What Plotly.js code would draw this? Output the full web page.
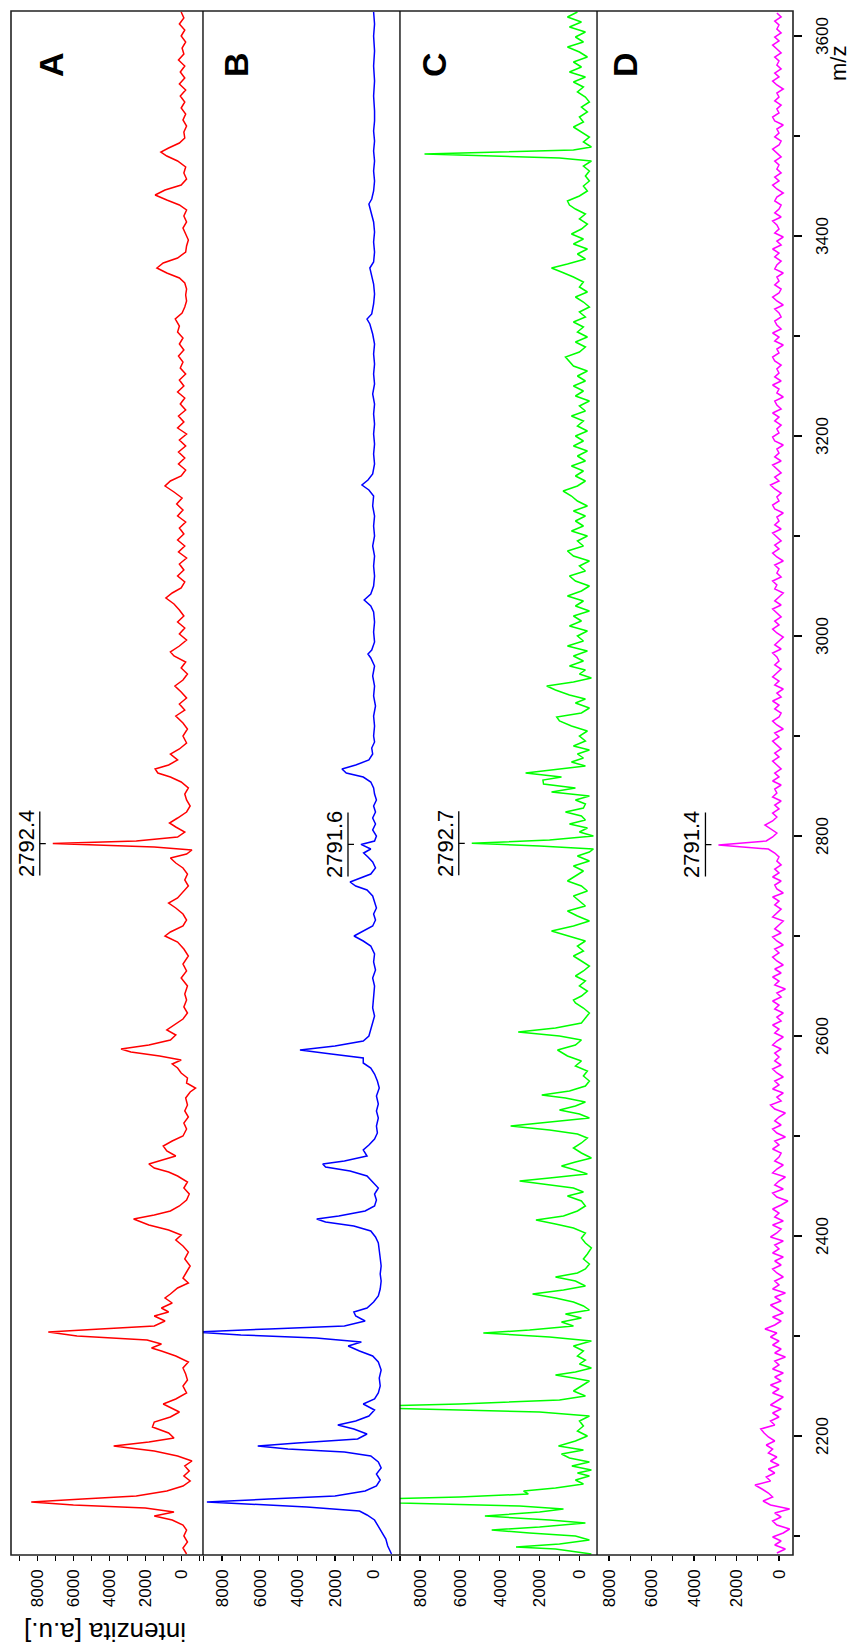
<!DOCTYPE html>
<html><head><meta charset="utf-8">
<script src="https://cdn.plot.ly/plotly-3.0.1.min.js"></script>
<style>
html,body{margin:0;padding:0;width:853px;height:1652px;overflow:hidden;background:#fff}
#wrap{position:absolute;left:0;top:0;width:1652px;height:853px;transform-origin:0 0;transform:translateY(1652px) rotate(-90deg)}
#chart{width:1652px;height:853px}
</style></head><body><div id="wrap"><div id="chart"></div></div>
<script>
// ---------- DATA ----------
const panelNames = ["A", "B", "C", "D"];
const peakMz = [2792.4, 2791.6, 2792.7, 2791.4];
const peakText = ["2792.4", "2791.6", "2792.7", "2791.4"];
const intensityTicks = [0, 2000, 4000, 6000, 8000];
const mzTicks = [2200, 2400, 2600, 2800, 3000, 3200, 3400, 3600];

// spectrum A: [m/z, intensity]
const spectrumA = [
[2082,-300],[2088,-100],[2094,-350],[2100,-150],[2106,-300],[2111,-100],[2116,500],[2120,1500],[2124,400],[2128,2000],[2131,6000],[2134,8350],[2137,5500],[2140,2500],[2145,800],[2150,-100],[2155,-500],[2160,-150],[2165,-450],[2170,-200],[2175,-600],[2180,200],[2185,1500],[2190,3760],[2194,1800],[2198,400],[2203,700],[2209,1600],[2214,1500],[2219,600],[2224,100],[2228,600],[2232,1000],[2237,300],[2243,-300],[2250,-100],[2256,-350],[2262,-250],[2268,-100],[2274,-400],[2280,300],[2285,1100],[2288,1650],[2292,1100],[2296,1900],[2300,5800],[2304,7400],[2307,4500],[2310,1500],[2315,900],[2320,1500],[2324,700],[2328,1100],[2333,500],[2338,900],[2342,600],[2348,200],[2353,-400],[2358,-100],[2364,-300],[2370,-500],[2377,-200],[2384,-400],[2390,-100],[2396,300],[2401,0],[2406,700],[2411,1800],[2417,2650],[2421,1500],[2425,600],[2430,100],[2436,-300],[2442,-450],[2448,-150],[2454,-350],[2460,200],[2464,700],[2468,1500],[2472,1800],[2476,1000],[2480,300],[2485,800],[2490,1000],[2495,500],[2500,-100],[2507,-300],[2513,-150],[2519,-400],[2525,-200],[2531,-350],[2538,-250],[2544,-500],[2548,-800],[2553,-300],[2558,-350],[2563,0],[2568,200],[2572,500],[2576,0],[2580,1200],[2584,2800],[2587,3350],[2591,1800],[2596,600],[2601,300],[2606,800],[2611,400],[2617,-100],[2623,-350],[2629,-150],[2636,-300],
[2642,-200],[2650,-350],[2658,0],[2665,-300],[2672,-100],[2680,-400],[2687,-150],[2694,200],[2700,900],[2704,600],[2710,-100],[2716,-300],[2722,-100],[2728,300],[2733,700],[2738,200],[2744,-100],[2750,-400],[2756,-200],[2762,-350],[2768,-100],[2773,300],[2778,600],[2782,-300],[2786,-600],[2789,1500],[2792.4,7150],[2795,2500],[2799,200],[2804,-200],[2809,300],[2813,650],[2818,200],[2824,-300],[2830,-500],[2836,-300],[2842,-200],[2848,-400],[2854,0],[2859,600],[2863,1300],[2867,1450],[2871,700],[2876,200],[2882,600],[2887,100],[2893,-300],[2900,-100],[2907,-350],[2913,-100],[2920,300],[2926,-200],[2932,100],[2938,-300],[2944,0],[2950,350],[2956,-100],[2962,-350],[2968,0],[2974,-250],[2980,400],[2984,600],[2990,100],[2996,-300],[3002,100],[3008,-200],[3014,200],[3020,-150],[3026,100],[3032,400],[3038,850],[3043,500],[3048,0],[3054,-200],[3060,200],[3066,-150],[3072,100],[3078,-300],[3084,150],[3090,-200],[3096,200],[3102,-150],[3108,100],[3114,-250],[3120,200],[3126,-100],[3132,250],[3138,-50],[3144,400],[3150,900],[3155,600],[3160,0],[3166,-250],[3172,150],[3178,-200],[3184,150],[3190,-250],[3196,100],[3202,-300],[3208,200],[3214,-150],[3220,150],[3226,-250],[3232,50],[3238,-200],[3244,200],[3250,-150],[3256,100],[3262,-250],[3268,50],[3274,-100],[3280,150],[3286,-150],[3292,100],[3298,-100],[3304,200],[3310,100],[3317,330],[3323,-50],[3329,-200],[3335,-300],[3341,-250],[3347,-300],[3353,-200],[3358,100],[3363,800],[3368,1350],[3373,1000],[3378,200],[3384,-250],[3390,-300],[3396,-400],[3402,-250],[3408,-100],[3414,-300],[3420,-150],[3426,-300],[3431,100],[3436,800],[3441,1450],[3446,900],[3451,0],[3457,-300],[3463,-150],[3469,-250],[3475,200],[3480,800],[3484,1130],[3488,700],[3493,100],[3498,-200],[3504,-150],[3510,-300],[3516,-100],[3522,-250],[3528,0],[3534,-200],[3540,50],[3546,-250],[3552,100],[3558,-200],[3564,50],[3570,-200],[3576,150],[3582,-150],[3588,-50],[3594,-250],[3600,0],[3606,-200],[3612,100],[3618,-150],[3624,0]
];

// spectrum B: [m/z, intensity]
const spectrumB = [
[2082,-1000],[2090,-800],[2097,-700],[2103,-500],[2110,-300],[2116,-100],[2121,300],[2125,700],[2129,3500],[2132,7000],[2134,8800],[2137,5500],[2140,2000],[2145,400],[2150,-200],[2156,-400],[2162,-200],[2168,-450],[2174,-300],[2180,100],[2184,1500],[2187,4500],[2190,6100],[2193,4000],[2197,800],[2202,300],[2207,1000],[2211,1850],[2215,900],[2220,200],[2226,-100],[2232,500],[2237,-100],[2243,-300],[2250,-400],[2258,-350],[2266,-450],[2274,-300],[2280,0],[2285,700],[2290,1300],[2294,600],[2298,3000],[2301,7000],[2304,9500],[2307,5500],[2310,1500],[2315,400],[2320,900],[2324,1000],[2328,300],[2334,-50],[2340,-300],[2347,-400],[2355,-450],[2362,-400],[2370,-450],[2378,-400],[2386,-350],[2393,-300],[2399,-150],[2405,100],[2410,1000],[2414,2500],[2417,2970],[2420,1800],[2425,400],[2430,-100],[2436,-200],[2442,-100],[2448,-300],[2454,0],[2460,300],[2465,1200],[2469,2500],[2472,2650],[2475,1500],[2480,300],[2486,500],[2491,200],[2497,-100],[2503,-250],[2510,-200],[2518,-300],[2525,-200],[2532,-300],[2540,-200],[2548,-350],[2555,-250],[2562,-100],[2568,100],[2573,500],[2578,500],[2582,2200],[2586,3860],[2590,2000],[2595,500],[2600,200],[2606,100],[2612,0],[2620,-100],[2628,0],[2636,-50],
[2642,-50],[2650,-100],[2658,0],[2666,-150],[2674,-50],[2682,-100],[2690,100],[2695,500],[2700,990],[2705,500],[2710,0],[2716,-150],[2722,-50],[2728,-200],[2734,-100],[2740,0],[2746,300],[2750,900],[2754,1200],[2758,700],[2762,100],[2768,-150],[2774,0],[2779,250],[2783,480],[2787,100],[2791.6,620],[2795,-100],[2800,-200],[2806,0],[2812,-150],[2818,0],[2824,-150],[2830,-50],[2836,-200],[2842,-100],[2848,-50],[2854,100],[2859,500],[2863,1400],[2867,1630],[2871,900],[2876,200],[2882,0],[2888,50],[2894,-100],[2900,-50],[2910,-100],[2920,-50],[2930,-150],[2940,-50],[2950,-100],[2960,0],[2970,-100],[2978,100],[2982,250],[2986,50],[2994,-100],[3004,-50],[3014,-100],[3024,-50],[3030,100],[3036,450],[3042,100],[3050,-50],[3060,-100],[3070,-50],[3080,-100],[3090,0],[3100,-100],[3110,-50],[3120,-100],[3130,0],[3140,-50],[3146,200],[3151,570],[3156,250],[3162,0],[3172,-100],[3182,-50],[3192,-100],[3202,-50],[3212,-100],[3222,-50],[3232,-100],[3242,0],[3252,-100],[3262,-50],[3272,-100],[3282,-50],[3292,-100],[3302,0],[3312,150],[3317,300],[3322,50],[3332,-50],[3342,-100],[3352,-50],[3362,50],[3368,150],[3374,-50],[3384,-100],[3394,-50],[3404,-100],[3414,-50],[3422,50],[3428,150],[3432,200],[3437,50],[3445,-50],[3455,-100],[3465,-50],[3475,-100],[3485,-50],[3495,-100],[3505,-50],[3515,-100],[3525,-100],[3540,-50],[3555,-100],[3570,-50],[3585,-100],[3600,-50],[3612,-100],[3624,-50]
];

// spectrum C: [m/z, intensity]
const spectrumC = [
[2082,-600],[2087,1200],[2089,3180],[2092,1000],[2096,-500],[2100,200],[2103,2500],[2106,4400],[2109,2000],[2113,-300],[2116,1500],[2120,4740],[2124,2000],[2127,800],[2130,3000],[2133,9000],[2136,12000],[2139,6000],[2142,2564],[2145,2800],[2148,1200],[2152,-200],[2156,200],[2160,-500],[2163,100],[2166,-600],[2170,380],[2174,-500],[2178,500],[2182,900],[2186,-200],[2190,1050],[2195,200],[2200,-400],[2205,100],[2210,-200],[2215,0],[2220,-500],[2224,2000],[2227,9000],[2229,12000],[2232,6000],[2236,1000],[2240,-300],[2245,300],[2250,-100],[2255,-500],[2258,300],[2261,1200],[2264,200],[2268,-600],[2272,0],[2276,-300],[2280,100],[2285,-200],[2290,300],[2295,-600],[2299,1500],[2303,4820],[2306,2500],[2310,300],[2314,900],[2318,-100],[2322,700],[2326,-500],[2330,-200],[2334,300],[2338,1200],[2342,2350],[2346,800],[2350,-300],[2355,200],[2359,1200],[2363,100],[2367,-300],[2372,-500],[2377,-200],[2382,-400],[2388,-600],[2393,-300],[2398,-100],[2403,-300],[2408,300],[2412,1200],[2416,2180],[2420,800],[2425,100],[2430,-300],[2435,-100],[2440,600],[2444,-200],[2448,300],[2452,1800],[2455,3000],[2458,1500],[2462,-400],[2466,200],[2470,900],[2474,200],[2478,-600],[2483,-100],[2488,300],[2493,-100],[2498,-400],[2502,100],[2506,1500],[2510,3450],[2514,1500],[2518,-500],[2522,0],[2526,1000],[2530,200],[2534,-300],[2538,700],[2541,1890],[2545,500],[2550,-300],[2555,-500],[2560,-200],[2565,-400],[2570,200],[2575,-100],[2580,600],[2586,1100],[2591,200],[2596,-100],[2600,1000],[2604,3070],[2608,1200],[2613,-100],[2618,-300],[2623,-500],[2628,-200],[2633,200],[2636,300],
[2640,-100],[2645,-400],[2650,0],[2655,-300],[2660,200],[2665,-200],[2670,-500],[2675,-100],[2680,300],[2685,-200],[2690,100],[2695,-300],[2700,600],[2705,1400],[2710,300],[2715,-500],[2720,100],[2725,600],[2730,-300],[2735,0],[2740,300],[2745,-400],[2750,-100],[2755,600],[2760,200],[2765,-200],[2770,300],[2775,-500],[2780,100],[2784,-500],[2787,-700],[2790,2000],[2792.7,5400],[2796,1500],[2800,-700],[2804,0],[2808,-400],[2812,500],[2816,-300],[2820,-100],[2824,700],[2828,-200],[2832,-300],[2836,200],[2840,-500],[2844,1400],[2848,200],[2852,1800],[2856,1830],[2859,900],[2863,2700],[2866,1500],[2870,-300],[2874,400],[2878,-200],[2882,100],[2886,-500],[2890,300],[2895,-300],[2900,0],[2905,-400],[2910,400],[2915,1000],[2919,1140],[2923,-100],[2928,-500],[2933,200],[2937,-300],[2941,500],[2946,1200],[2950,1640],[2954,300],[2958,-600],[2962,0],[2966,-300],[2970,500],[2975,-200],[2980,300],[2985,-400],[2990,600],[2995,-200],[3000,100],[3005,-400],[3010,500],[3015,-100],[3020,300],[3025,-500],[3030,200],[3035,-200],[3040,600],[3045,-100],[3050,-500],[3055,200],[3060,500],[3065,-300],[3070,0],[3075,-500],[3080,300],[3085,600],[3090,-200],[3095,100],[3100,-400],[3105,400],[3110,-200],[3115,200],[3120,-300],[3125,300],[3130,-400],[3135,100],[3140,400],[3145,820],[3150,100],[3155,-300],[3160,200],[3165,-200],[3170,400],[3175,-300],[3180,100],[3185,-400],[3190,300],[3195,-200],[3200,200],[3205,-400],[3210,100],[3215,-200],[3220,400],[3225,-300],[3230,0],[3235,-500],[3240,200],[3245,-200],[3250,300],[3255,-300],[3260,100],[3265,-400],[3270,300],[3275,500],[3279,700],[3284,0],[3289,-300],[3294,200],[3299,-400],[3304,100],[3309,-200],[3314,300],[3319,-300],[3324,0],[3329,-500],[3334,-200],[3339,200],[3344,-400],[3349,0],[3354,-200],[3359,300],[3364,900],[3368,1400],[3372,600],[3377,-300],[3382,100],[3387,-400],[3392,300],[3397,-200],[3402,400],[3407,-100],[3412,-400],[3417,0],[3422,-300],[3427,200],[3431,500],[3435,600],[3440,0],[3445,-400],[3450,-200],[3455,-500],[3460,-300],[3465,-500],[3470,-200],[3475,-600],[3478,1000],[3480,5000],[3482,7770],[3484,4000],[3486,300],[3489,-600],[3494,-200],[3499,-500],[3504,-100],[3509,300],[3514,-200],[3519,0],[3524,-400],[3529,-100],[3534,-500],[3539,-300],[3544,100],[3549,-200],[3554,300],[3559,-300],[3564,500],[3569,-100],[3574,300],[3579,-400],[3584,0],[3589,600],[3594,-200],[3599,200],[3604,-300],[3609,500],[3614,-100],[3619,600],[3624,100]
];

// spectrum D: sampled every D_STEP m/z starting at D_START
const D_START = 2083, D_STEP = 4;
const intensityD = [
100,-300,200,-100,300,-200,-500,100,300,-100,200,-500,400,750,300,500,800,1130,400,600,200,500,0,400,100,
500,300,600,200,500,700,860,200,400,0,300,-100,400,100,-200,300,0,400,-100,200,-200,300,0,200,-300,
200,-100,300,0,400,100,660,200,-100,300,-200,100,400,-100,200,-300,300,0,200,-200,100,300,-100,200,-200,
300,0,200,-200,400,100,-100,300,-200,200,0,300,-100,-420,100,300,-200,200,0,-300,300,100,-200,200,0,
-100,300,0,200,-300,100,300,-100,200,0,-300,200,400,-100,100,-200,300,0,200,-200,100,300,-100,200,0,
200,-100,300,100,-200,200,0,300,-100,100,-200,200,0,300,-100,100,-300,200,0,300,-100,200,-200,100,300,
0,200,-200,100,300,-100,200,0,-200,300,100,-100,200,0,300,-200,100,200,-100,300,0,200,-100,100,0,
200,500,2850,600,300,100,400,660,300,100,300,0,200,-100,300,100,200,-100,300,0,200,-100,100,300,0,
200,-100,100,300,0,200,-200,100,300,0,-100,200,0,300,-100,100,-200,200,0,300,100,-100,200,0,100,
300,-100,200,0,-200,100,300,0,200,-100,100,300,-100,200,0,-200,200,100,300,-100,100,0,200,-200,100,
300,0,200,-100,100,300,-100,200,0,100,-200,200,300,0,100,-100,200,400,0,200,-100,100,300,-100,200,
0,100,-200,200,300,0,100,-100,200,0,300,-100,100,200,-200,100,0,300,-100,200,0,100,-100,200,300,
0,100,-200,200,0,300,-100,100,200,-100,0,200,-200,100,300,0,-100,200,0,100,-200,200,100,-100,200,
0,300,-100,100,-200,200,0,100,300,-100,200,0,-100,200,100,-200,100,300,0,200,-100,100,0,200,-100,
100,300,0,-100,200,0,100,-200,200,300,0,100,-100,200,0,100,-200,100,300,0,200,-100,100,0,200,
-100,100,300,0,200,-100,100,0,200,-100,100
];

// ---------- STYLE / LAYOUT ----------
const colors = ["#ff0000", "#0000ff", "#00ff00", "#ff00ff"];
const FONT = "Liberation Sans, Arial, sans-serif";
const W = 1652, H = 853;
const M = {l: 97, r: 11, t: 11, b: 60};
const domains = [[0.7545, 1], [0.5026, 0.7545], [0.2506, 0.5026], [0, 0.2506]];
const yRanges = [[-1214, 9477], [-1449, 9008], [-883, 9001], [-659, 8565]];
const mzRange = [2081, 3625];

const axNames = ["y", "y2", "y3", "y4"];
const traces = [];
const pairSeries = [spectrumA, spectrumB, spectrumC];
pairSeries.forEach((s, i) => {
  traces.push({
    type: "scatter", mode: "lines",
    x: s.map(p => p[0]), y: s.map(p => p[1]),
    xaxis: "x", yaxis: axNames[i],
    line: {color: colors[i], width: 1.5},
    hoverinfo: "skip", showlegend: false
  });
});
traces.push({
  type: "scatter", mode: "lines",
  x0: D_START, dx: D_STEP, y: intensityD,
  xaxis: "x", yaxis: "y4",
  line: {color: colors[3], width: 1.5},
  hoverinfo: "skip", showlegend: false
});

function peakValue(i) {
  let best = -Infinity;
  if (i < 3) {
    pairSeries[i].forEach(p => { if (Math.abs(p[0] - peakMz[i]) <= 2 && p[1] > best) best = p[1]; });
    return best;
  }
  intensityD.forEach((v, k) => { const m = D_START + k * D_STEP; if (Math.abs(m - peakMz[i]) <= 2 && v > best) best = v; });
  return best;
}

const layout = {
  width: W, height: H, margin: M,
  paper_bgcolor: "#fff", plot_bgcolor: "#fff",
  font: {family: FONT, color: "#000", size: 17},
  showlegend: false,
  xaxis: {
    range: mzRange, anchor: "y4", showgrid: false, zeroline: false, showline: false,
    tickmode: "array", tickvals: mzTicks, ticktext: mzTicks.map(String),
    ticks: "outside", ticklen: 8, tickwidth: 1.2, tickcolor: "#000",
    minor: {dtick: 100, tick0: 0, ticks: "outside", ticklen: 6, tickwidth: 1.2, tickcolor: "#000"},
    tickfont: {size: 17, family: FONT, color: "#000"}, ticklabelstandoff: 6
  },
  shapes: [], annotations: []
};
domains.forEach((d, i) => {
  layout[i === 0 ? "yaxis" : "yaxis" + (i + 1)] = {
    domain: d, range: yRanges[i], anchor: "x",
    showgrid: false, zeroline: false, showline: false,
    tickmode: "array", tickvals: intensityTicks, ticktext: intensityTicks.map(String),
    ticks: "outside", ticklen: 5, tickwidth: 1.2, tickcolor: "#000",
    minor: {dtick: 1000, tick0: 0, ticks: "outside", ticklen: 5, tickwidth: 1.2, tickcolor: "#000"},
    tickfont: {size: 17, family: FONT, color: "#000"}, ticklabelstandoff: 5
  };
});

// frame + separators
layout.shapes.push({type: "rect", xref: "paper", yref: "paper", x0: 0, x1: 1, y0: 0, y1: 1,
  line: {color: "#222", width: 1.6}, layer: "above"});
[domains[0][0], domains[1][0], domains[2][0]].forEach(yv => {
  layout.shapes.push({type: "line", xref: "paper", yref: "paper", x0: 0, x1: 1, y0: yv, y1: yv,
    line: {color: "#111", width: 1.4}, layer: "above"});
});

// panel letters
panelNames.forEach((n, i) => {
  layout.annotations.push({
    text: "<b>" + n + "</b>", x: 3571, y: 7270, xref: "x", yref: axNames[i],
    showarrow: false, xanchor: "center", yanchor: "middle",
    font: {size: 34, family: FONT, color: "#000"}
  });
});

// peak labels
peakMz.forEach((pm, i) => {
  const pv = peakValue(i);
  layout.shapes.push({type: "line", xref: "x", yref: axNames[i],
    xsizemode: "pixel", xanchor: pm, x0: -32, x1: 32,
    ysizemode: "pixel", yanchor: pv, y0: 13, y1: 13,
    line: {color: "#000", width: 1.3}});
  layout.shapes.push({type: "line", xref: "x", yref: axNames[i],
    xsizemode: "pixel", xanchor: pm, x0: 0, x1: 0,
    ysizemode: "pixel", yanchor: pv, y0: 7, y1: 13,
    line: {color: "#000", width: 1.3}});
  layout.annotations.push({
    text: peakText[i], x: pm, y: pv, xref: "x", yref: axNames[i],
    showarrow: false, xanchor: "center", yanchor: "bottom", yshift: 12,
    font: {size: 22, family: FONT, color: "#000"}
  });
});

// axis titles
layout.annotations.push({
  text: "m/z", xref: "paper", yref: "paper", x: (1588 - M.l) / (W - M.l - M.r), y: 0,
  yshift: -45, showarrow: false, xanchor: "center", yanchor: "middle", borderpad: 0,
  font: {size: 22, family: FONT, color: "#000"}
});
layout.annotations.push({
  text: "intenzita [a.u.]", xref: "paper", yref: "paper", x: 0, xshift: -77,
  y: 1 - (105 - M.t) / (H - M.t - M.b), textangle: -90,
  showarrow: false, xanchor: "center", yanchor: "middle",
  font: {size: 26, family: FONT, color: "#000"}
});

Plotly.newPlot("chart", traces, layout, {displayModeBar: false, staticPlot: true});
</script></body></html>
